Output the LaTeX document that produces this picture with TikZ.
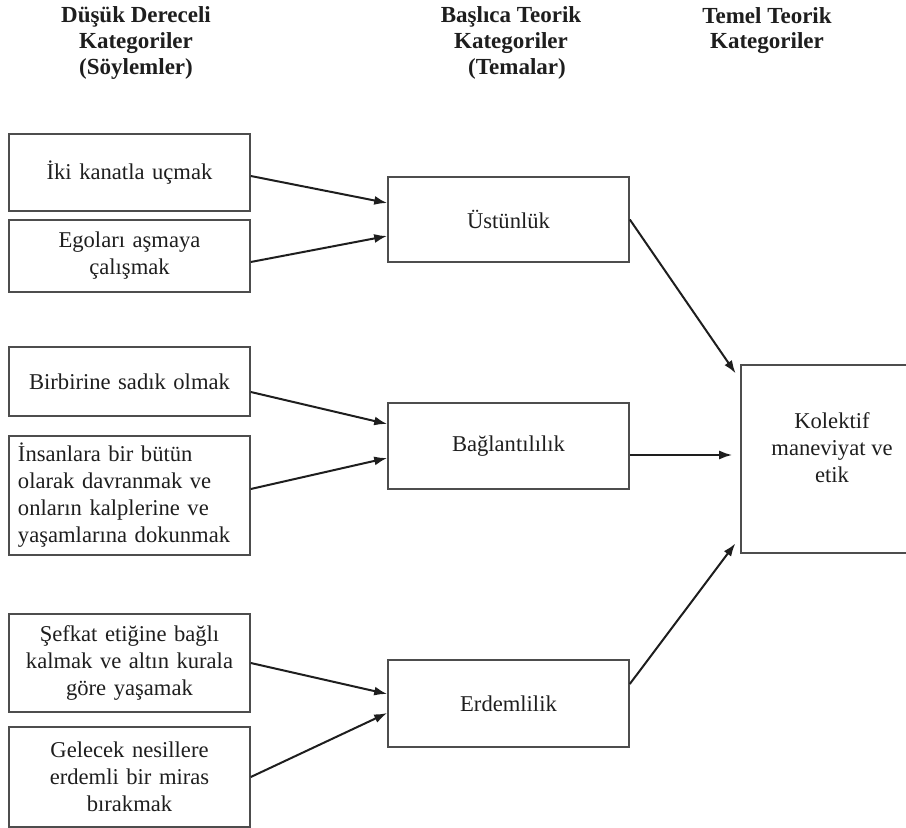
\documentclass[tikz,border=0pt]{standalone}
\usepackage{fontspec}
\setmainfont{Liberation Serif}
\usepackage{xcolor}
\usetikzlibrary{arrows.meta}
\definecolor{framegray}{HTML}{4D4D4D}
\definecolor{inkdark}{HTML}{1E1E1E}

\begin{document}
\begin{tikzpicture}[x=0.5pt,y=-0.5pt,
  every node/.style={font=\fontsize{11.3}{13.5}\selectfont,text=inkdark},
  catbox/.style={draw=framegray,line width=0.8pt,align=center,inner sep=2pt},
  lowcat/.style={catbox,minimum width=120.5pt,text width=116pt},
  themecat/.style={catbox,minimum width=120.5pt},
  head/.style={font=\fontsize{11.5}{12.8}\selectfont\bfseries,align=center},
  flow/.style={-{Latex[length=6.5pt,width=4.5pt]},line width=1pt,draw=inkdark}]
  \clip (0,0) rectangle (906,828);
  % column headers
  \node[head] (H1) at (136,43) {Düşük Dereceli\\Kategoriler\\(Söylemler)};
  \node[head] (H2) at (511,43) {Başlıca Teorik\\Kategoriler\\\hspace*{6pt}(Temalar)};
  \node[head] (H3) at (767,30.5) {Temel Teorik\\Kategoriler};
  % low-order categories
  \node[lowcat,minimum height=38.5pt] (L1) at (129.5,172.5) {İki kanatla uçmak};
  \node[lowcat,minimum height=36pt] (L2) at (129.5,256) {Egoları aşmaya\\çalışmak};
  \node[lowcat,minimum height=34.5pt] (L3) at (129.5,381.5) {Birbirine sadık olmak};
  \node[catbox,minimum width=120.5pt,minimum height=59.5pt,inner xsep=4.5pt,
        text width=111.5pt,align=left] (L4) at (129.5,495.5)
    {\makebox[105.5pt][s]{İnsanlara bir bütün}\\
     \makebox[105.5pt][s]{olarak davranmak ve}\\
     \makebox[105.5pt][s]{onların kalplerine ve}\\
     \makebox[105.5pt][s]{yaşamlarına dokunmak}};
  \node[lowcat,minimum height=49pt] (L5) at (129.5,663) {Şefkat etiğine bağlı\\kalmak ve altın kurala\\göre yaşamak};
  \node[lowcat,minimum height=50pt] (L6) at (129.5,777) {Gelecek nesillere\\erdemli bir miras\\bırakmak};
  % themes
  \node[themecat,minimum height=42.5pt] (M1) at (508.5,219.5) {Üstünlük};
  \node[themecat,minimum height=43pt] (M2) at (508.5,446) {Bağlantılılık};
  \node[themecat,minimum height=43.5pt] (M3) at (508.5,703.5) {Erdemlilik};
  % core category (runs past the right margin)
  \node[catbox,minimum width=91pt,minimum height=94pt] (R) at (832,459)
    {Kolektif\\maneviyat ve\\etik\rule[-11pt]{0pt}{11pt}};
  % connectors
  \draw[flow] ([yshift=-1.75pt]L1.east) -- ([yshift=8.25pt]M1.west);
  \draw[flow] ([yshift=-3pt]L2.east) -- ([yshift=-8.25pt]M1.west);
  \draw[flow] ([yshift=-5.25pt]L3.east) -- ([yshift=11pt]M2.west);
  \draw[flow] ([yshift=3.25pt]L4.east) -- ([yshift=-6pt]M2.west);
  \draw[flow] (L5.east) -- ([yshift=4.75pt]M3.west);
  \draw[flow] (L6.east) -- ([yshift=-4.75pt]M3.west);
  \draw[flow,shorten >=4pt] (M1.east) -- ([yshift=39.5pt]R.west);
  \draw[flow,shorten >=4pt] ([yshift=-4.5pt]M2.east) -- ([yshift=2pt]R.west);
  \draw[flow,shorten >=4pt] ([yshift=9.75pt]M3.east) -- ([yshift=-39pt]R.west);
\end{tikzpicture}
\end{document}
